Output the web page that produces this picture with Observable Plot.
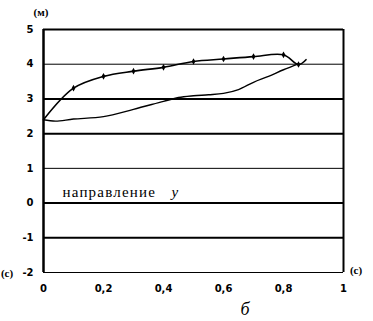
<!DOCTYPE html>
<html>
<head>
<meta charset="utf-8">
<script src="https://cdn.jsdelivr.net/npm/d3@7"></script>
<script src="https://cdn.jsdelivr.net/npm/@observablehq/plot@0.6"></script>
<style>
  html, body { margin: 0; padding: 0; background: #fff; }
  #chart { width: 373px; height: 321px; }
</style>
</head>
<body>
<div id="chart"></div>
<script>
// ---- data ----
const upperX = [0, 0.1, 0.2, 0.3, 0.4, 0.5, 0.6, 0.7, 0.8, 0.85, 0.875];
const upperY = [2.4, 3.31, 3.65, 3.8, 3.91, 4.08, 4.15, 4.22, 4.27, 3.99, 4.13];
const upperMarked = [false, true, true, true, true, true, true, true, true, true, false];

const lowerX = [0, 0.04, 0.1, 0.2, 0.3, 0.4, 0.45, 0.5, 0.55, 0.6, 0.65, 0.7, 0.75, 0.8, 0.85];
const lowerY = [2.4, 2.36, 2.42, 2.49, 2.7, 2.93, 3.04, 3.09, 3.12, 3.16, 3.27, 3.48, 3.65, 3.84, 4.01];

const yTicks = [-2, -1, 0, 1, 2, 3, 4, 5];
const xTicks = [0, 0.2, 0.4, 0.6, 0.8, 1];
const thinGrid = [4, 1, -2];
const thickGrid = [5, 3, 2, 0, -1];

const yUnit = "(м)";
const xUnit = "(c)";
const xLabel = "б";
const noteText = "направление";
const noteVar = "y";

// ---- tables ----
const upper = upperX.map((x, i) => ({x, y: upperY[i], m: upperMarked[i]}));
const lower = lowerX.map((x, i) => ({x, y: lowerY[i]}));

const fmt = d => String(d).replace(".", ",");
const serif = "'Liberation Serif', 'DejaVu Serif', serif";

const svg = Plot.plot({
  width: 373,
  height: 321,
  marginLeft: 43,
  marginRight: 30,
  marginTop: 29,
  marginBottom: 49,
  style: {fontFamily: "'DejaVu Sans', sans-serif", fontSize: "10px", fontWeight: "bold", background: "#fff", color: "#000"},
  x: {domain: [0, 1], ticks: xTicks, tickFormat: fmt, tickSize: 0, tickPadding: 12, label: null},
  y: {domain: [-2, 5], ticks: yTicks, tickFormat: d => d, tickSize: 0, tickPadding: 10, label: null},
  marks: [
    Plot.ruleY(thinGrid, {stroke: "#000", strokeWidth: 1}),
    Plot.ruleY(thickGrid, {stroke: "#000", strokeWidth: 2}),
    Plot.ruleX([0], {stroke: "#000", strokeWidth: 2.5}),
    Plot.ruleX([1], {stroke: "#000", strokeWidth: 2}),
    Plot.line(lower, {x: "x", y: "y", curve: "catmull-rom", stroke: "#000", strokeWidth: 1.4}),
    Plot.line(upper, {x: "x", y: "y", curve: "catmull-rom", stroke: "#000", strokeWidth: 1.6}),
    Plot.dot(upper.filter(d => d.m), {x: "x", y: "y", symbol: "diamond", r: 2, fill: "#000", stroke: "none"}),
    Plot.text([noteText], {frameAnchor: "top-left", dx: 19, dy: 157, text: d => d, textAnchor: "start",
      fontFamily: serif, fontSize: 15, fontWeight: "normal"}),
    Plot.text([noteVar], {frameAnchor: "top-left", dx: 128, dy: 157, text: d => d, textAnchor: "start",
      fontFamily: serif, fontSize: 15, fontStyle: "italic", fontWeight: "normal"})
  ]
});

const s = d3.select(svg);
s.selectAll("text").filter(function() { return this.textContent === noteText; })
  .attr("letter-spacing", "1.2px");
s.append("text").attr("x", 41).attr("y", 16).attr("text-anchor", "middle")
  .attr("font-family", serif).attr("font-size", 11).attr("font-weight", "bold").text(yUnit);
s.append("text").attr("x", 7).attr("y", 277).attr("text-anchor", "middle")
  .attr("font-family", serif).attr("font-size", 11).attr("font-weight", "bold").text(xUnit);
s.append("text").attr("x", 356).attr("y", 274).attr("text-anchor", "middle")
  .attr("font-family", serif).attr("font-size", 11).attr("font-weight", "bold").text(xUnit);
s.append("text").attr("x", 245).attr("y", 315).attr("text-anchor", "middle")
  .attr("font-family", serif).attr("font-size", 18).attr("font-style", "italic").attr("font-weight", "normal").text(xLabel);

document.getElementById("chart").appendChild(svg);
</script>
</body>
</html>
